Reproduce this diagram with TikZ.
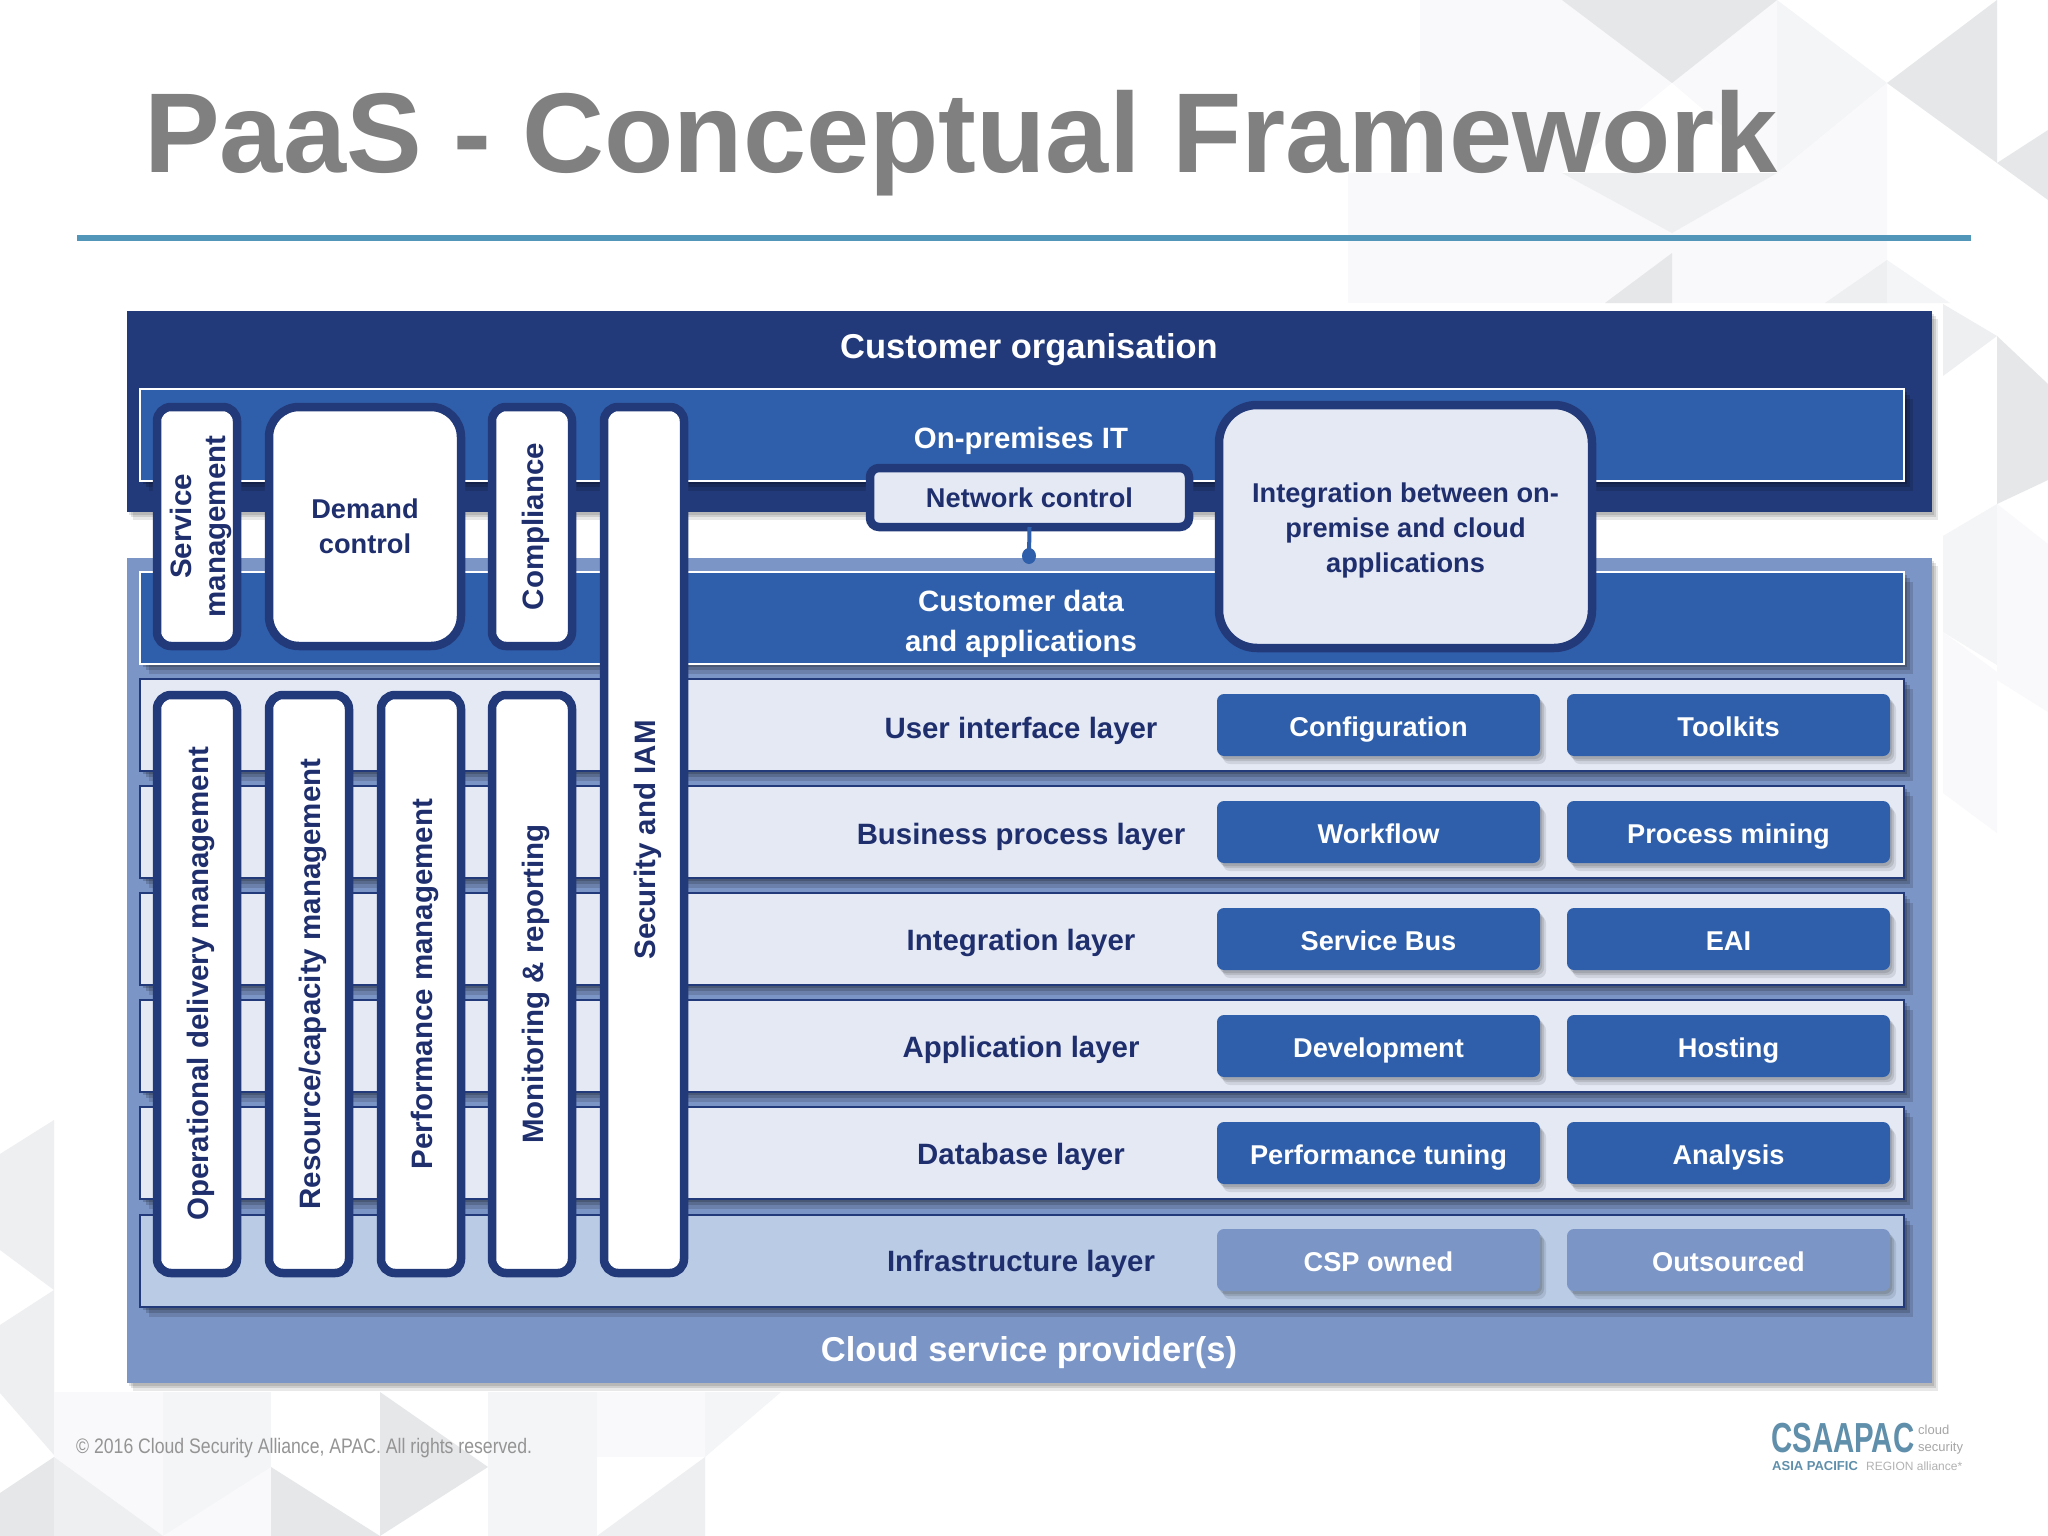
\documentclass[tikz,border=0pt]{standalone}
\usepackage{fontspec}
\usepackage{graphicx}
\setmainfont{Liberation Sans}
\newfontfamily\narrowf[FakeStretch=.84]{Liberation Sans}
\newfontfamily\logof[FakeStretch=.70]{Liberation Sans}
\definecolor{navy}{HTML}{233A7A}
\definecolor{mid}{HTML}{2F5FAA}
\definecolor{cloud}{HTML}{7B95C6}
\definecolor{lay}{HTML}{E4E9F4}
\definecolor{infra}{HTML}{B9CBE5}
\definecolor{ink}{HTML}{1F2F6E}
\definecolor{fa}{HTML}{E6E7E9}
\definecolor{fb}{HTML}{EEEFF1}
\definecolor{fc}{HTML}{F4F5F7}
\definecolor{fd}{HTML}{F9F9FB}
\definecolor{logoc}{HTML}{5F8FAB}
\newcommand{\fs}[1]{\fontsize{#1}{#1}\selectfont}
\newcommand{\vt}[1]{\rotatebox{90}{\raisebox{-11pt}[0pt][0pt]{#1}}}
\tikzset{
  shad/.style={preaction={fill=black,opacity=.11,transform canvas={shift={(2pt,-3pt)}}},
               preaction={fill=black,opacity=.11,transform canvas={shift={(4pt,-5pt)}}},
               preaction={fill=black,opacity=.09,transform canvas={shift={(6pt,-8pt)}}}},
  hshad/.style={preaction={fill=black,opacity=.18,transform canvas={shift={(3pt,-3pt)}}},
               preaction={fill=black,opacity=.16,transform canvas={shift={(6pt,-6pt)}}},
               preaction={fill=black,opacity=.13,transform canvas={shift={(9pt,-10pt)}}}},
  box/.style={anchor=north west,inner sep=0pt,outer sep=0pt,align=center,font=\bfseries},
  band/.style={box,shad},
  panel/.style={box,fill=mid,draw=white,line width=2pt,hshad},
  layer/.style={box,fill=lay,draw=navy,line width=2pt,hshad,minimum width=1764pt,minimum height=92pt},
  btn/.style={box,rounded corners=7pt,fill=mid,text=white,shad,minimum width=323pt,minimum height=62pt,font=\bfseries\fs{27.2},text height=28pt,text depth=5.5pt},
  ibtn/.style={btn,fill=cloud},
  bar/.style={box,rounded corners=14pt,fill=white,draw=navy,line width=8.5pt,text=ink,font=\bfseries\fs{29.5}},
  txt/.style={bar,font=\bfseries\fs{27.2}},
  big/.style={txt,rounded corners=38pt,fill=lay},
  lbl/.style={inner sep=0pt,align=center,font=\bfseries\fs{29.4},text=ink},
  one/.style={text height=29pt,text depth=6pt},
  wl/.style={lbl,text=white}
}
\begin{document}
\begin{tikzpicture}[x=1pt,y=-1pt]
\useasboundingbox (0,0) rectangle (2048,1536);
\fill[white] (0,0) rectangle (2048,1536);
% background facets: top right
\fill[fd] (1348,173) rectangle (1562,303);
\fill[fd] (1420,0) rectangle (1562,173);
\fill[fd] (1562,0) rectangle (1777,303);
\fill[white] (1562,173) -- (1777,173) -- (1672,83) -- cycle;
\fill[fa] (1562,0) -- (1777,0) -- (1672,83) -- cycle;
\fill[fc] (1777,0) -- (1887,83) -- (1777,173) -- cycle;
\fill[fd] (1777,173) -- (1887,83) -- (1887,303) -- (1777,303) -- cycle;
\fill[fa] (1887,83) -- (1997,0) -- (1997,163) -- cycle;
\fill[fa] (1997,163) -- (2048,130) -- (2048,200) -- cycle;
\fill[fb] (1562,173) -- (1777,173) -- (1672,233) -- cycle;
\fill[fa] (1605,303) -- (1672,253) -- (1672,303) -- cycle;
\fill[fb] (1825,303) -- (1887,260) -- (1887,303) -- cycle;
\fill[fc] (1887,260) -- (1950,303) -- (1887,303) -- cycle;
% right margin
\fill[fb] (1943,304) -- (1997,336) -- (1943,376) -- cycle;
\fill[fa] (1997,336) -- (2048,384) -- (2048,480) -- (1997,504) -- cycle;
\fill[fc] (1943,536) -- (1997,504) -- (1997,665) -- (1943,632) -- cycle;
\fill[fd] (1997,504) -- (2048,544) -- (2048,712) -- (1997,680) -- cycle;
\fill[fd] (1943,632) -- (1997,672) -- (1997,833) -- (1943,793) -- cycle;
% left margin and bottom
\fill[fb] (0,1154) -- (54,1120) -- (54,1290) -- (0,1250) -- cycle;
\fill[fb] (54,1290) -- (0,1325) -- (0,1393) -- (54,1455) -- cycle;
\fill[fd] (54,1392) rectangle (163,1536);
\fill[fc] (163,1392) rectangle (271,1536);
\fill[fd] (271,1467) -- (163,1536) -- (271,1536) -- cycle;
\fill[fa] (0,1493) -- (54,1457) -- (54,1536) -- (0,1536) -- cycle;
\fill[fb] (54,1457) -- (163,1536) -- (54,1536) -- cycle;
\fill[fa] (271,1467) -- (380,1536) -- (271,1536) -- cycle;
\fill[fa] (380,1392) -- (488,1467) -- (380,1536) -- cycle;
\fill[fc] (488,1392) rectangle (597,1536);
\fill[fb] (597,1536) -- (705,1457) -- (705,1536) -- cycle;
\fill[fc] (705,1392) -- (781,1392) -- (705,1457) -- cycle;
\fill[fd] (597,1392) rectangle (705,1457);
% title
\node[anchor=base west,inner sep=0pt,text=black!50,font=\bfseries\fs{113.5}] (title) at (144,172) {PaaS - Conceptual Framework};
\coordinate (ruleL) at (77,238); \coordinate (ruleR) at (1971,238);
\draw[line width=6pt,color={rgb,255:red,82;green,150;blue,185}] (ruleL) -- (ruleR);
% main bands
\node[band,fill=navy,minimum width=1805pt,minimum height=201pt] (cust) at (127,311) {};
\node[band,fill=cloud,minimum width=1805pt,minimum height=825pt] (csp) at (127,558) {};
\node[panel,minimum width=1764pt,minimum height=92pt] (onprem) at (140,389) {};
\node[panel,minimum width=1764pt,minimum height=92pt] (cdata) at (140,572) {};
\node[wl,font=\bfseries\fs{34.5},text height=25pt,text depth=7pt] (custt) at (1029,349) {Customer organisation};
\node[wl,font=\bfseries\fs{34.5},text height=25pt,text depth=7pt] (cspt) at (1029,1352) {Cloud service provider(s)};
\node[wl,one] (onpt) at (1021,437) {On-premises IT};
\node[wl] (cdt) at (1021,624) {Customer data\\[10pt]and applications};
% layers
\node[layer] (l1) at (140,679) {};
\node[layer] (l2) at (140,786) {};
\node[layer] (l3) at (140,893) {};
\node[layer] (l4) at (140,1000) {};
\node[layer] (l5) at (140,1107) {};
\node[layer,fill=infra] (l6) at (140,1215) {};
\node[lbl,one] (t1) at (1021,727) {User interface layer};
\node[lbl,one] (t2) at (1021,833) {Business process layer};
\node[lbl,one] (t3) at (1021,939) {Integration layer};
\node[lbl,one] (t4) at (1021,1046) {Application layer};
\node[lbl,one] (t5) at (1021,1153) {Database layer};
\node[lbl,one] (t6) at (1021,1260) {Infrastructure layer};
% buttons
\node[btn] (b1) at (1217,694) {Configuration};
\node[btn] (c1) at (1567,694) {Toolkits};
\node[btn] (b2) at (1217,801) {Workflow};
\node[btn] (c2) at (1567,801) {Process mining};
\node[btn] (b3) at (1217,908) {Service Bus};
\node[btn] (c3) at (1567,908) {EAI};
\node[btn] (b4) at (1217,1015) {Development};
\node[btn] (c4) at (1567,1015) {Hosting};
\node[btn] (b5) at (1217,1122) {Performance tuning};
\node[btn] (c5) at (1567,1122) {Analysis};
\node[ibtn] (b6) at (1217,1229) {CSP owned};
\node[ibtn] (c6) at (1567,1229) {Outsourced};
% vertical bars
\node[bar,minimum width=80pt,minimum height=239pt] (svc) at (157,407) {\hspace*{8pt}\rotatebox{90}{\shortstack{Service\\[11pt]management}}};
\node[txt,minimum width=192pt,minimum height=239pt,rounded corners=30pt] (dem) at (269,407) {Demand\\[8pt]control};
\node[bar,minimum width=80pt,minimum height=239pt] (comp) at (492,407) {\vt{Compliance}};
\node[bar,minimum width=80pt,minimum height=866pt] (sec) at (604,407) {\vt{Security and IAM}};
\node[bar,minimum width=80pt,minimum height=578pt] (op) at (157,695) {\vt{Operational delivery management}};
\node[bar,minimum width=80pt,minimum height=578pt] (res) at (269,695) {\vt{Resource/capacity management}};
\node[bar,minimum width=80pt,minimum height=578pt] (perf) at (381,695) {\vt{Performance management}};
\node[bar,minimum width=80pt,minimum height=578pt] (mon) at (492,695) {\vt{Monitoring \& reporting}};
% network control + integration
\coordinate (stem) at (1029,556);
\node[txt,fill=lay,rounded corners=9pt,minimum width=319pt,minimum height=59pt] (net) at (870,468) {Network control};
\draw[line width=4pt,mid] (net.south) -- (stem);
\fill[mid] (stem) ellipse (7pt and 8pt);
\node[big,minimum width=373pt,minimum height=243pt] (integ) at (1219,405) {\raisebox{-4pt}[\height][\depth]{\shortstack{Integration between on-\\[7pt]premise and cloud\\[7pt]applications}}};
% footer
\node[anchor=base west,inner sep=0pt,text=black!42,font=\narrowf\fs{21}] (foot) at (76,1453) {© 2016 Cloud Security Alliance, APAC. All rights reserved.};
\node[anchor=base west,inner sep=0pt,text=logoc,font=\logof\bfseries\fs{42}] (logo) at (1771,1452) {CSAAPAC};
\node[anchor=base west,inner sep=0pt,text=black!35,font=\fs{13}] (logo2) at (1918,1434) {cloud};
\node[anchor=base west,inner sep=0pt,text=black!35,font=\fs{13}] (logo2b) at (1918,1451) {security};
\node[anchor=base west,inner sep=0pt,text=logoc,font=\bfseries\fs{13}] (logo3) at (1772,1470) {ASIA PACIFIC};
\node[anchor=base west,inner sep=0pt,text=black!30,font=\fs{12}] (logo4) at (1866,1470) {REGION alliance*};
\end{tikzpicture}
\end{document}
